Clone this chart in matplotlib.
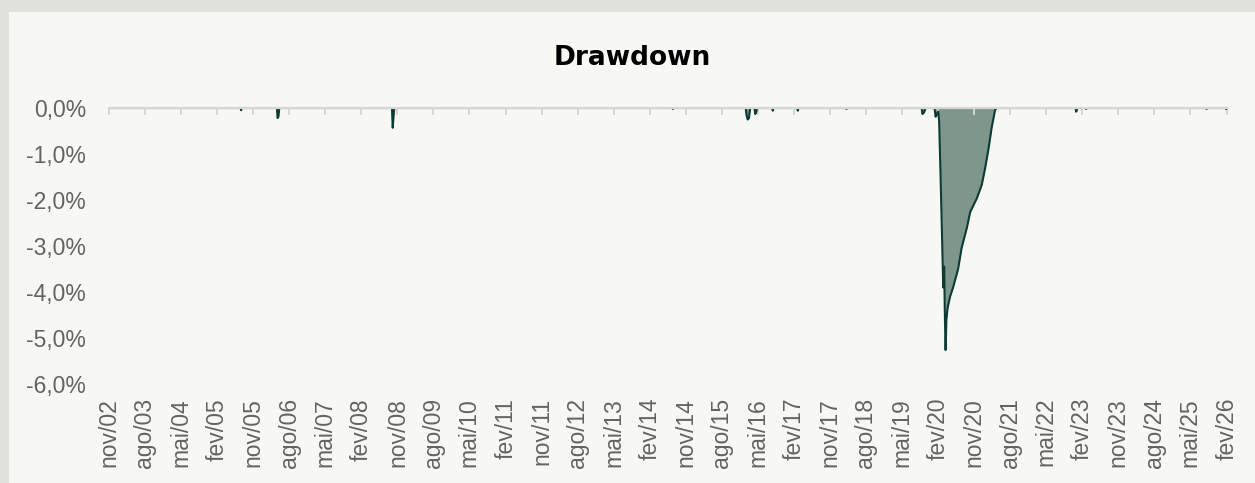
import matplotlib
matplotlib.use("Agg")
import matplotlib.pyplot as plt
import matplotlib.dates as mdates
from matplotlib.patches import Rectangle
import datetime as dt

# ---------------- data ----------------
tick_labels = ['nov/02', 'ago/03', 'mai/04', 'fev/05', 'nov/05', 'ago/06', 'mai/07', 'fev/08',
               'nov/08', 'ago/09', 'mai/10', 'fev/11', 'nov/11', 'ago/12', 'mai/13', 'fev/14',
               'nov/14', 'ago/15', 'mai/16', 'fev/17', 'nov/17', 'ago/18', 'mai/19', 'fev/20',
               'nov/20', 'ago/21', 'mai/22', 'fev/23', 'nov/23', 'ago/24', 'mai/25', 'fev/26']

dd_dates = [
    '2002-11-01',
    '2005-07-28', '2005-08-01', '2005-08-05',
    '2006-04-30', '2006-05-05', '2006-05-12', '2006-05-18',
    '2008-09-20', '2008-09-26', '2008-10-03', '2008-10-08',
    '2014-07-22', '2014-07-25', '2014-07-28',
    '2016-01-30', '2016-02-05', '2016-02-14', '2016-02-24', '2016-03-04',
    '2016-04-05', '2016-04-12', '2016-04-20', '2016-04-25',
    '2016-08-19', '2016-08-23', '2016-08-27',
    '2017-02-25', '2017-03-01', '2017-03-05',
    '2018-03-02', '2018-03-06', '2018-03-10',
    '2019-09-28', '2019-10-04', '2019-10-16', '2019-10-28',
    '2020-01-04', '2020-01-12', '2020-01-23', '2020-02-01', '2020-02-08', '2020-02-19',
    '2020-03-01', '2020-03-10', '2020-03-17', '2020-03-23', '2020-03-28', '2020-04-03',
    '2020-04-12', '2020-05-01', '2020-05-24', '2020-07-01', '2020-07-28', '2020-09-06',
    '2020-10-01', '2020-11-21', '2020-12-28', '2021-01-23', '2021-02-18', '2021-03-13',
    '2021-04-08', '2021-04-21',
    '2022-12-10', '2022-12-15', '2022-12-20', '2022-12-24',
    '2023-02-26', '2023-03-01', '2023-03-05',
    '2025-08-28', '2025-09-01', '2025-09-05',
    '2026-01-24', '2026-01-28',
]
dd_values = [
    0.0,
    0.0, -0.05, 0.0,
    0.0, -0.22, -0.18, 0.0,
    0.0, -0.43, -0.15, 0.0,
    0.0, -0.02, 0.0,
    0.0, -0.15, -0.25, -0.22, 0.0,
    0.0, -0.13, -0.08, 0.0,
    0.0, -0.06, 0.0,
    0.0, -0.06, 0.0,
    0.0, -0.02, 0.0,
    0.0, -0.13, -0.10, 0.0,
    0.0, -0.19, -0.12, -0.08, -0.30, -1.50,
    -2.80, -3.90, -3.45, -4.60, -5.26, -4.60,
    -4.35, -4.10, -3.90, -3.50, -3.04, -2.60,
    -2.26, -1.96, -1.67, -1.30, -0.87, -0.43,
    -0.04, 0.0,
    0.0, -0.08, -0.05, 0.0,
    0.0, -0.02, 0.0,
    0.0, -0.02, 0.0,
    0.0, -0.02,
]

y_ticks = [0, -1, -2, -3, -4, -5, -6]

# ---------------- helpers ----------------
month_map = {'jan': 1, 'fev': 2, 'mar': 3, 'abr': 4, 'mai': 5, 'jun': 6,
             'jul': 7, 'ago': 8, 'set': 9, 'out': 10, 'nov': 11, 'dez': 12}
tick_dates = [dt.date(2000 + int(l.split('/')[1]), month_map[l.split('/')[0]], 1) for l in tick_labels]
x = [dt.datetime.strptime(d, '%Y-%m-%d') for d in dd_dates]

W, H = 1255, 483
fig = plt.figure(figsize=(W / 100, H / 100), dpi=100)
fig.patch.set_facecolor('#e2e2dd')
fig.patches.append(Rectangle((9 / W, 0), 1, 1 - 12 / H, transform=fig.transFigure,
                             facecolor='#f7f8f4', edgecolor='none', zorder=-10))

ax = fig.add_axes([109 / W, 1 - 384 / H, (1226.7 - 109) / W, (384 - 108) / H])
ax.set_facecolor('none')
ax.set_zorder(5)

ax.fill_between(x, dd_values, 0, color='#7f968c', linewidth=0, zorder=1)
ax.plot(x, dd_values, color='#0b3b33', linewidth=1.5, zorder=2)

ax.set_xlim(mdates.date2num(tick_dates[0]), mdates.date2num(tick_dates[-1]))
ax.set_ylim(-6, 0)

for s in ['left', 'right', 'bottom']:
    ax.spines[s].set_visible(False)
ax.spines['top'].set_color('#d6d6d6')
ax.spines['top'].set_linewidth(1.6)
ax.spines['top'].set_zorder(3)

ax.set_xticks(tick_dates)
ax.set_xticklabels(tick_labels, rotation=90, fontsize=16.5, color='#636363',
                   family='Liberation Sans', va='top', ha='center')
ax.tick_params(axis='x', top=True, bottom=False, labeltop=False, labelbottom=True,
               direction='in', length=5, width=1.4, color='#d6d6d6', pad=10)

ax.set_yticks(y_ticks)
ax.set_yticklabels([f"{v:.1f}%".replace('.', ',') for v in y_ticks], fontsize=16.5,
                   color='#636363', family='Liberation Sans')
ax.tick_params(axis='y', length=0, pad=16.5)

fig.text(632 / W, 1 - 58 / H, 'Drawdown', ha='center', va='center',
         fontsize=19, fontweight='bold', family='DejaVu Sans', color='#000000')

fig.savefig('out.png', dpi=100, facecolor=fig.get_facecolor())
